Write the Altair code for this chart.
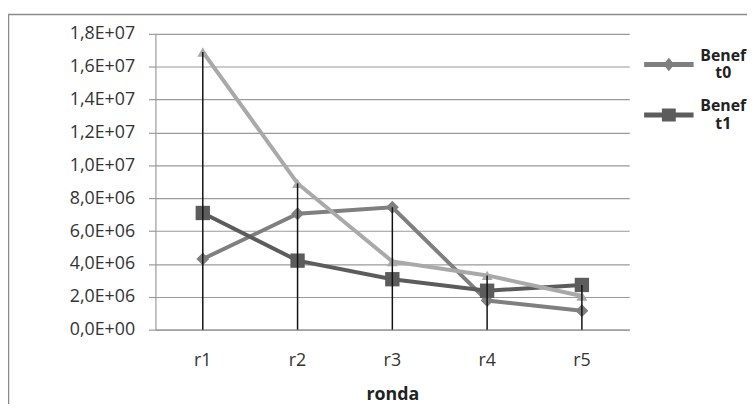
import altair as alt
import pandas as pd

categories = ["r1", "r2", "r3", "r4", "r5"]
benef_t0 = [4.3e6, 7.05e6, 7.45e6, 1.77e6, 1.15e6]
benef_t1 = [7.1e6, 4.2e6, 3.07e6, 2.37e6, 2.72e6]
benef_t2 = [1.69e7, 8.9e6, 4.15e6, 3.3e6, 2.05e6]
series_names = ["Benef t0", "Benef t1", "Benef t2"]
legend_names = ["Benef t0", "Benef t1"]
series_colors = ["#7f7f7f", "#5c5c5c", "#a9a9a9"]
y_ticks = [0, 2e6, 4e6, 6e6, 8e6, 1e7, 1.2e7, 1.4e7, 1.6e7, 1.8e7]
y_tick_labels = ["0,0E+00", "2,0E+06", "4,0E+06", "6,0E+06", "8,0E+06",
                 "1,0E+07", "1,2E+07", "1,4E+07", "1,6E+07", "1,8E+07"]
x_title = "ronda"

rows = []
for name, vals in zip(series_names, [benef_t0, benef_t1, benef_t2]):
    for c, v in zip(categories, vals):
        rows.append({"ronda": c, "serie": name, "valor": v})
df = pd.DataFrame(rows)

FONT = "Open Sans"
TXT = "#333333"
GRID = "#9a9a9a"

label_array = "[" + ",".join("'" + l + "'" for l in y_tick_labels) + "]"

x_enc = alt.X("ronda:N", sort=categories,
              scale=alt.Scale(paddingInner=0, paddingOuter=0),
              axis=alt.Axis(title=x_title, labelAngle=0, ticks=False, grid=False,
                            labelPadding=22, labelFontSize=18, labelFont=FONT,
                            labelColor=TXT, domainColor=GRID, domainWidth=1.2,
                            titleFont=FONT, titleFontSize=18, titleFontWeight="bold",
                            titleColor="#222222", titleBaseline="alphabetic", titleY=71))
y_enc = alt.Y("valor:Q",
              scale=alt.Scale(domain=[0, 1.8e7], nice=False, zero=True),
              axis=alt.Axis(title=None, values=y_ticks, tickCount=20, labelOverlap=False,
                            labelExpr=label_array + "[round(datum.value/2000000)]",
                            labelFontSize=18, labelFont=FONT, labelColor=TXT,
                            labelPadding=14, tickSize=7, tickColor=GRID, tickWidth=1.2,
                            domainColor=GRID, domainWidth=1.2,
                            grid=True, gridColor=GRID, gridWidth=1.2))

base = alt.Chart(df)

frame = alt.Chart(alt.Data(values=[{"k": 1}])).mark_rect(
    fillOpacity=0, stroke="#8a8a8a", strokeWidth=1.5
).encode(x=alt.value(-148.5), x2=alt.value(700), y=alt.value(-19.5), y2=alt.value(500))

lines = base.mark_line(strokeWidth=4).encode(
    x=x_enc, y=y_enc,
    color=alt.Color("serie:N", scale=alt.Scale(domain=series_names, range=series_colors),
                    legend=None),
    order=alt.Order("ronda:N"),
)

point_shapes = ["diamond", "square", "triangle-up"]
point_sizes = [170, 210, 120]
point_layers = []
for name, col, shp, sz in zip(series_names, series_colors, point_shapes, point_sizes):
    point_layers.append(
        base.transform_filter(alt.datum.serie == name).mark_point(
            filled=True, opacity=1, shape=shp, size=sz, color=col
        ).encode(x=x_enc, y=y_enc)
    )

drops = base.mark_rule(color="#111111", strokeWidth=1.5).encode(
    x=alt.X("ronda:N", sort=categories),
    y=alt.Y("maxv:Q"),
    y2=alt.datum(0),
).transform_aggregate(maxv="max(valor)", groupby=["ronda"])

# legend symbols: a line with the marker, drawn slightly below the entry centre
diamond_leg = "M-1,0.26L1,0.26L1,0.46L-1,0.46Z M0,0.09L0.22,0.36L0,0.63L-0.22,0.36Z"
square_leg = "M-1,0.26L1,0.26L1,0.46L-1,0.46Z M-0.28,0.1L0.28,0.1L0.28,0.62L-0.28,0.62Z"

leg = alt.Legend(title=None, orient="none", legendX=494, legendY=-3, direction="vertical",
                 symbolSize=2500, symbolStrokeWidth=0, symbolOpacity=1,
                 labelFont=FONT, labelFontSize=16, labelFontWeight="bold", labelColor="#222222",
                 labelAlign="center", labelBaseline="middle", labelOffset=30,
                 labelExpr="split(datum.label, ' ')", rowPadding=0, padding=0, labelLimit=0)

legend_layer = base.transform_filter(
    alt.FieldOneOfPredicate(field="serie", oneOf=legend_names)
).mark_point(filled=True, opacity=0).encode(
    x=x_enc, y=y_enc,
    fill=alt.Fill("serie:N", scale=alt.Scale(domain=legend_names, range=series_colors[:2]),
                  legend=leg),
    shape=alt.Shape("serie:N", scale=alt.Scale(domain=legend_names,
                                               range=[diamond_leg, square_leg]),
                    legend=leg),
)

chart = alt.layer(frame, lines, *point_layers, drops, legend_layer).properties(
    width=479, height=299,
    padding={"left": 149, "top": 24, "right": 119, "bottom": 73},
    autosize=alt.AutoSizeParams(type="none"),
    background="white",
).configure_view(stroke=None)

chart.save("out.html", embed_options={"renderer": "svg", "actions": False})
